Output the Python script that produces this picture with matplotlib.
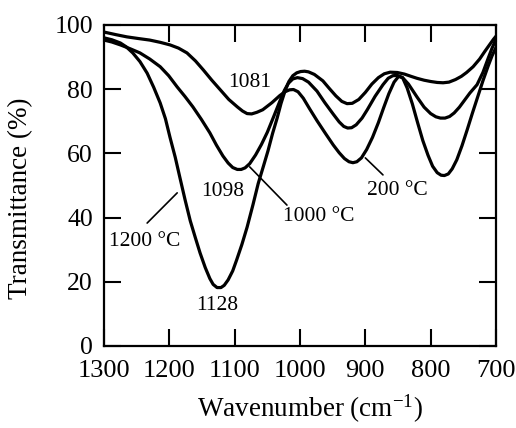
import matplotlib
matplotlib.use("Agg")
import matplotlib.pyplot as plt

plt.rcParams['font.family'] = ['Liberation Serif', 'DejaVu Serif']
plt.rcParams['mathtext.fontset'] = 'custom'
plt.rcParams['mathtext.rm'] = 'Liberation Serif'
plt.rcParams['mathtext.it'] = 'Liberation Serif:italic'

# 200 degC curve (min at 1081)
wn_200 = [1300, 1282, 1265, 1248, 1230, 1214, 1199, 1186, 1173, 1160, 1148, 1135, 1122, 1109,
          1096, 1088, 1081, 1074, 1066, 1057, 1043, 1031, 1023, 1016, 1010, 1003, 995, 985,
          974, 961, 949, 940, 932, 925, 919, 913, 906, 898, 889, 880, 872, 864, 856, 849,
          843, 836, 828, 820, 812, 804, 797, 790, 784, 779, 773, 767, 760, 752, 744, 736,
          728, 720, 712, 706, 700]
tr_200 = [97.8, 97.0, 96.3, 95.8, 95.3, 94.6, 93.8, 92.8, 91.3, 88.8, 86.0, 82.8, 79.8, 76.8,
          74.5, 73.2, 72.4, 72.3, 72.8, 73.6, 75.8, 78.0, 79.2, 79.8, 79.9, 79.2, 77.2, 73.8,
          70.2, 66.2, 62.6, 60.2, 58.4, 57.4, 57.1, 57.4, 58.6, 61.2, 65.0, 69.6, 74.2, 78.6, 82.2, 84.0,
          83.6, 80.4, 75.4, 69.6, 64.0, 59.4, 56.0, 54.0, 53.2, 53.1, 53.6, 55.2, 58.0, 62.4, 67.4, 72.6,
          77.6, 82.6, 87.2, 90.4, 93.0]

# 1000 degC curve (min at 1098)
wn_1000 = [1300, 1288, 1275, 1260, 1245, 1230, 1214, 1201, 1188, 1176, 1164, 1151, 1138, 1128,
           1118, 1110, 1103, 1096, 1090, 1084, 1077, 1068, 1059, 1050, 1040, 1031, 1024, 1018,
           1011, 1004, 996, 987, 974, 962, 949, 940, 933, 927, 921, 914, 905, 897, 885, 873,
           865, 858, 851, 843, 834, 821, 810, 800, 792, 785, 778, 771, 764, 756, 748, 740,
           729, 720, 712, 706, 700]
tr_1000 = [95.3, 94.7, 93.8, 92.6, 91.3, 89.4, 87.0, 84.2, 80.7, 77.7, 74.5, 70.6, 66.4, 62.6,
           59.2, 57.0, 55.6, 55.0, 55.0, 55.5, 56.8, 59.5, 62.8, 66.6, 71.6, 76.2, 79.6, 81.8,
           83.2, 83.6, 83.3, 82.2, 79.4, 75.8, 72.2, 69.8, 68.4, 67.9, 68.0, 68.9, 71.0, 73.6, 77.8, 81.4,
           83.4, 84.2, 84.3, 83.6, 81.6, 77.6, 74.4, 72.4, 71.4, 71.0, 71.0, 71.5, 72.6, 74.4, 76.6, 78.8,
           81.4, 85.2, 89.6, 92.8, 95.5]

# 1200 degC curve (min at 1128)
wn_1200 = [1300, 1288, 1275, 1266, 1256, 1245, 1234, 1224, 1214, 1206, 1199, 1191, 1184, 1176,
           1168, 1160, 1153, 1145, 1138, 1133, 1127, 1121, 1116, 1110, 1103, 1097, 1089, 1081,
           1072, 1064, 1056, 1049, 1042, 1035, 1029, 1023, 1017, 1011, 1005, 999, 993, 987,
           978, 965, 955, 945, 936, 928, 920, 910, 900, 890, 880, 871, 862, 851, 840, 830,
           821, 810, 800, 790, 781, 772, 762, 753, 745, 735, 725, 717, 710, 704, 700]
tr_1200 = [96.0, 95.4, 94.4, 93.2, 91.3, 88.6, 85.0, 80.6, 75.7, 70.8, 65.0, 58.8, 52.6, 45.6,
           39.0, 33.6, 29.0, 24.4, 21.0, 19.2, 18.2, 18.2, 18.9, 20.6, 23.4, 26.8, 31.6, 37.0,
           44.0, 50.6, 56.0, 60.8, 66.2, 71.0, 75.6, 79.4, 82.4, 84.2, 85.1, 85.5, 85.6, 85.4,
           84.6, 82.6, 80.2, 77.9, 76.2, 75.5, 75.6, 76.8, 79.0, 81.6, 83.6, 84.8, 85.3, 85.2, 84.7, 84.0,
           83.4, 82.8, 82.4, 82.1, 82.0, 82.2, 83.0, 84.0, 85.2, 87.0, 89.4, 91.8, 93.8, 95.5, 96.5]

x_ticks = [1300, 1200, 1100, 1000, 900, 800, 700]
y_ticks = [0, 20, 40, 60, 80, 100]

fig = plt.figure(figsize=(5.16, 4.28), dpi=100)
ax = fig.add_axes([0.2016, 0.1916, 0.7596, 0.75])

lw = 2.3
for wn, tr in [(wn_200, tr_200), (wn_1000, tr_1000), (wn_1200, tr_1200)]:
    ax.plot(wn, tr, color='black', lw=lw, solid_joinstyle='round', solid_capstyle='round')

ax.set_xlim(1300, 700)
ax.set_ylim(0, 100)
ax.set_xticks(x_ticks)
ax.set_yticks(y_ticks)
ax.tick_params(axis='both', direction='in', length=12, width=1.5, top=True, right=True)
ax.tick_params(axis='x', labelsize=19, pad=10)
ax.tick_params(axis='y', labelsize=18.5, pad=8)
for s in ax.spines.values():
    s.set_linewidth(1.6)

ax.set_xlabel('Wavenumber (cm$^{-1}$)', fontsize=19.5)
ax.xaxis.set_label_coords(0.525, -0.145)
ax.set_ylabel('Transmittance (%)', fontsize=19.5)
ax.yaxis.set_label_coords(-0.18, 0.46)

fs = 15.5
ax.text(1077, 82, '1081', fontsize=fs, ha='center', va='center')
ax.text(1118, 48, '1098', fontsize=fs, ha='center', va='center')
ax.text(1127, 12.5, '1128', fontsize=fs, ha='center', va='center')
ax.text(1237, 32.7, '1200 °C', fontsize=fs, ha='center', va='center')
ax.text(971, 40.2, '1000 °C', fontsize=fs, ha='center', va='center')
ax.text(851, 48.3, '200 °C', fontsize=fs, ha='center', va='center')

lp = dict(arrowstyle='-', lw=1.2, color='black', shrinkA=0, shrinkB=0)
ax.annotate('', xy=(1188, 47.7), xytext=(1234, 38.3), arrowprops=lp)
ax.annotate('', xy=(1077, 55.8), xytext=(1020, 43.9), arrowprops=lp)
ax.annotate('', xy=(900, 58.6), xytext=(873, 53.3), arrowprops=lp)

fig.savefig('out.png', dpi=100)
